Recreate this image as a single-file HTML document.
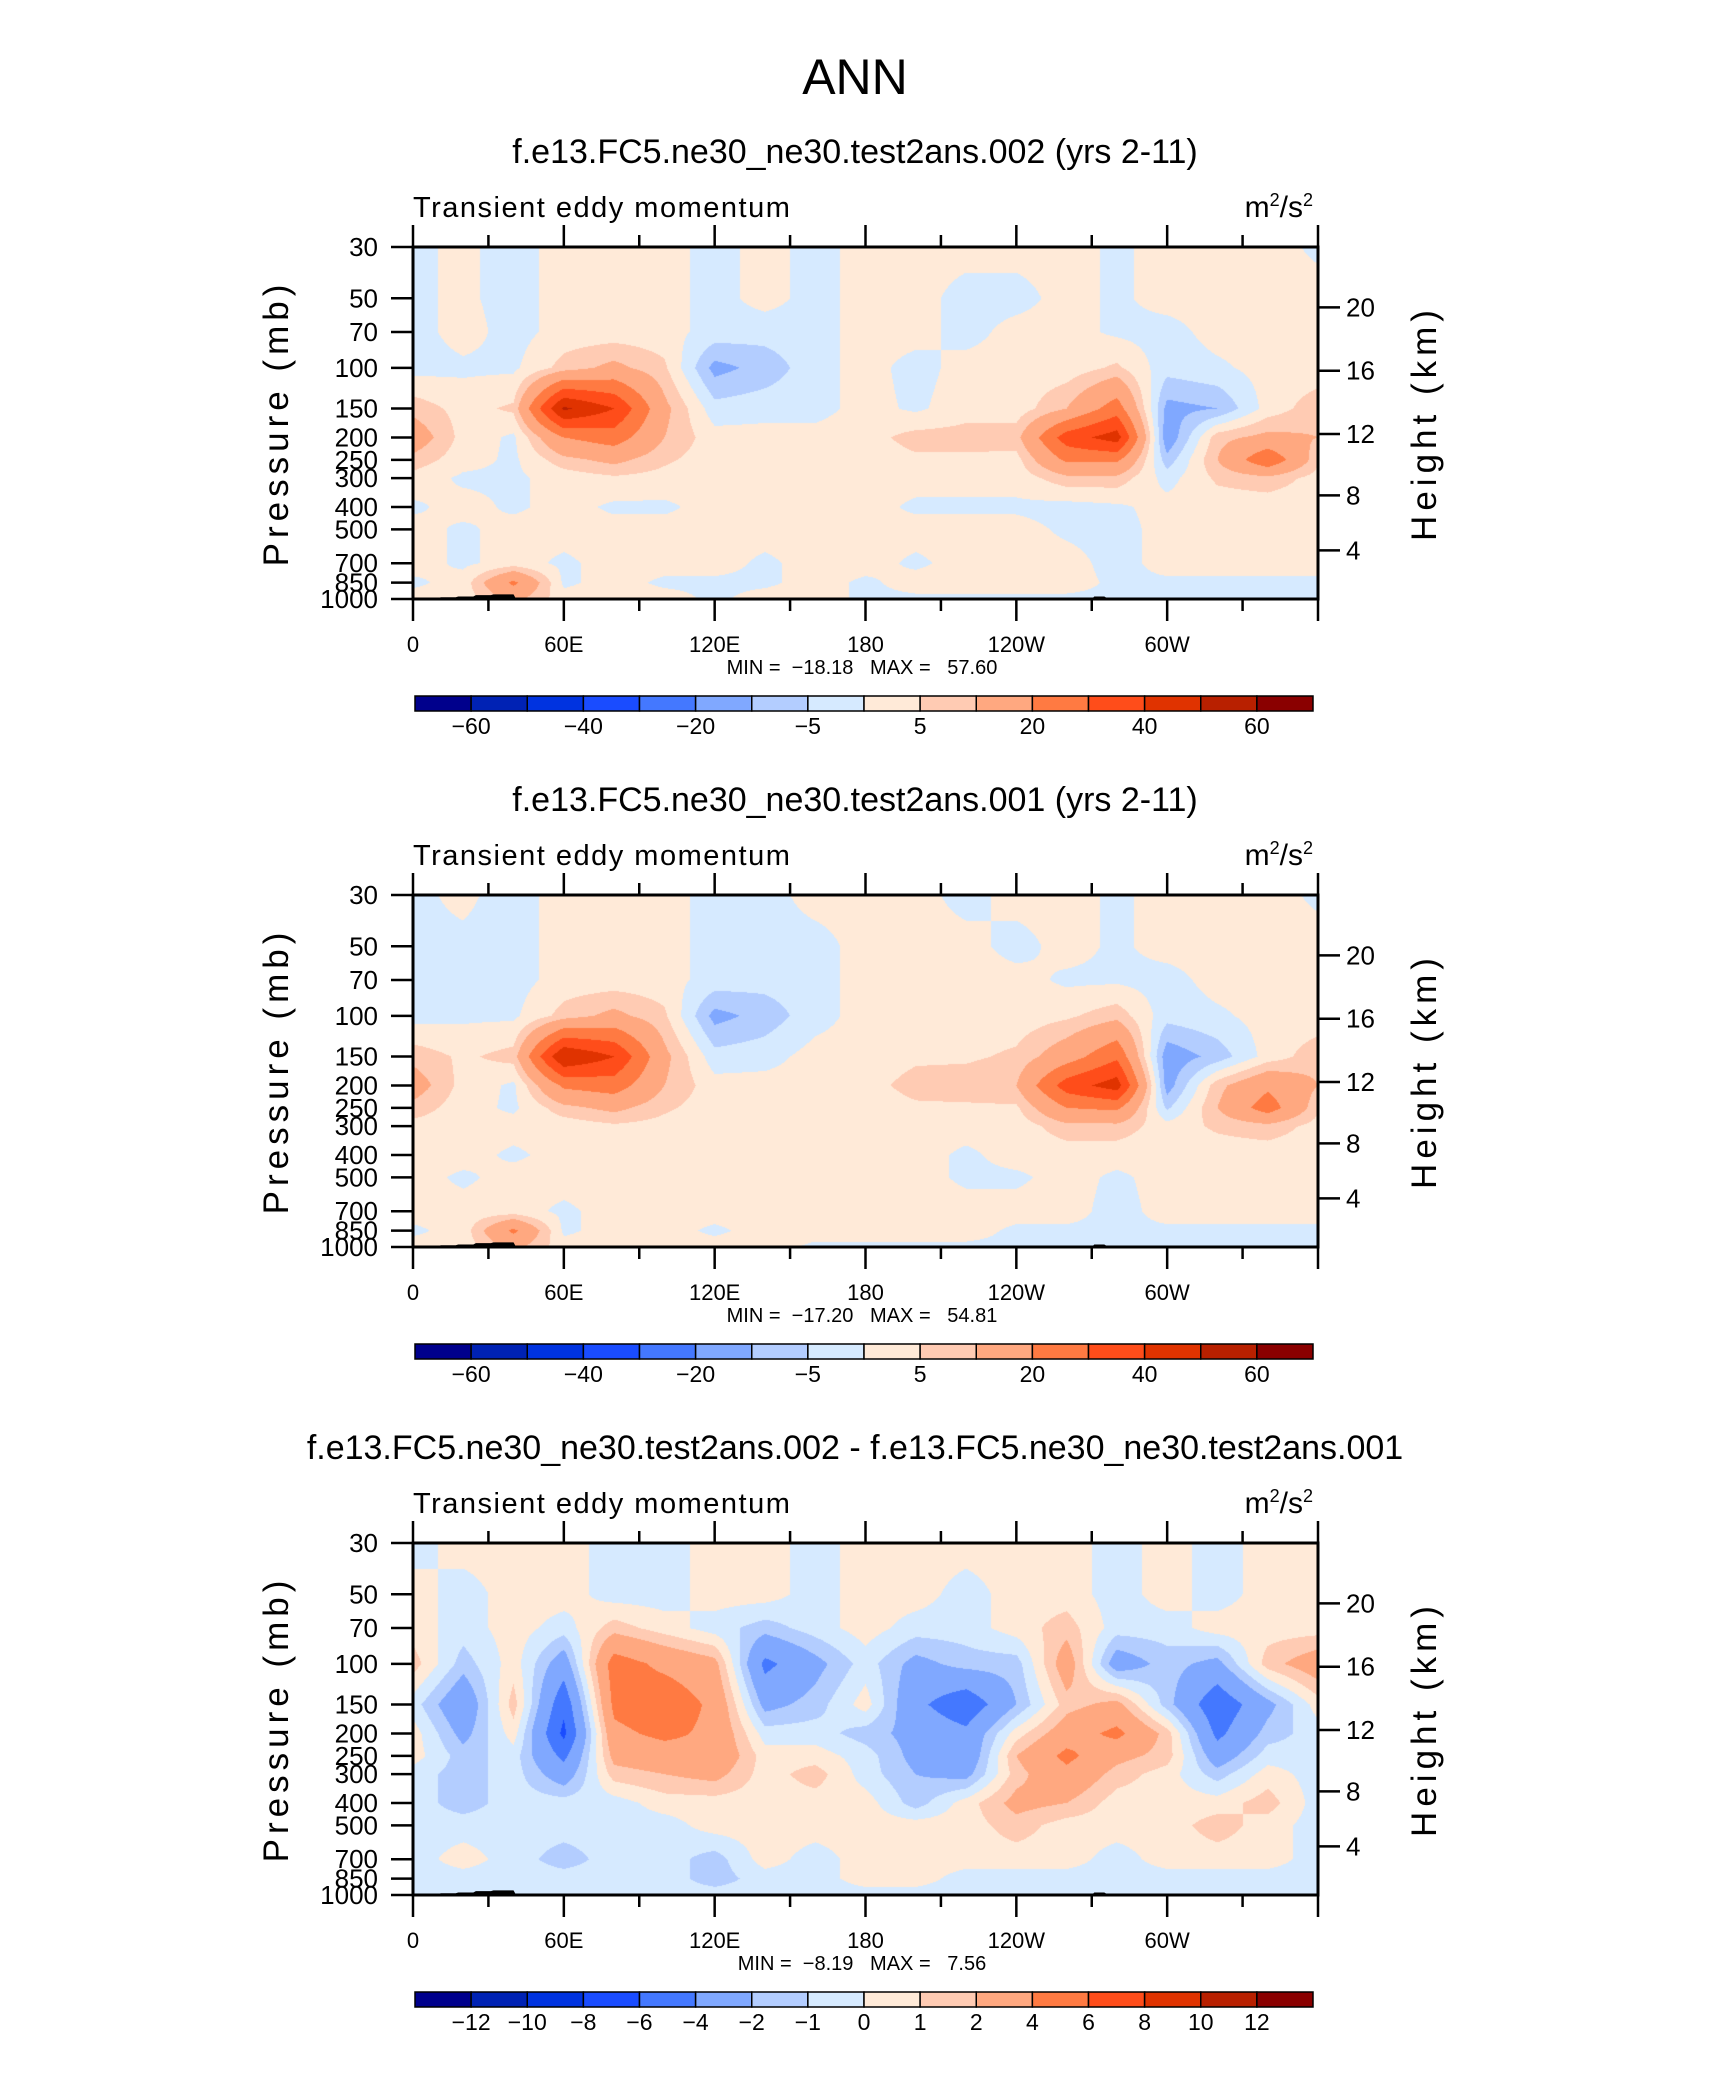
<!DOCTYPE html>
<html><head><meta charset="utf-8">
<style>
body{margin:0;background:#fff;}
#root{position:relative;width:1710px;height:2074px;overflow:hidden;background:#fff;font-family:"Liberation Sans",sans-serif;}
svg text{font-family:"Liberation Sans",sans-serif;}
canvas{position:absolute;}
</style></head>
<body>
<div id="root">
<svg id="svg" width="1710" height="2074" style="position:absolute;left:0;top:0"></svg>
</div>
<script>
const lons=[0,20,40,60,80,100,120,140,160,180,200,220,240,260,280,300,320,340,360];
const levels=[30,50,70,100,150,200,250,300,400,500,700,850,1000];
const xTickLabels=["0","60E","120E","180","120W","60W"];
const pTickLabels=[30,50,70,100,150,200,250,300,400,500,700,850,1000];
const hTickLabels=[20,16,12,8,4];
const cbLevelsA=[-60,-50,-40,-30,-20,-10,-5,0,5,10,20,30,40,50,60];
const cbLabelsA=["-60","","-40","","-20","","-5","","5","","20","","40","","60"];
const cbLevelsB=[-12,-10,-8,-6,-4,-2,-1,0,1,2,4,6,8,10,12];
const cbLabelsB=["-12","-10","-8","-6","-4","-2","-1","0","1","2","4","6","8","10","12"];
const colors=["#00008c","#0022b4","#0033e0","#1a4cff","#4478ff","#80a8ff","#b3cdff","#d6eaff","#ffead8","#ffcbb3","#ffa880","#ff7a42","#ff4d1a","#e03300","#b82000","#8a0000"];
const field1=[
[-1,1,-2,2,2,2,-2,2,-2,2,2,2,2,2,-1,2,2,2,-1],
[-1,1,-2,2,2,2,-2,2,-2,2,2,-2,-2,2,-1,2,2,2,2],
[-2,2,-2,2,2,2,-2,-3,-2,2,2,-2,2,2,-1,-2,2,2,2],
[-2,-1,-1,7,12,6,-12,-8,-2,2,-2,2,2,2,6,-3,-1,2,2],
[8,3,6,52,40,12,-3,-2,-2,2,-1,3,2,10,25,-12,-10,2,8],
[15,3,-1,20,25,10,2,2,2,3,7,7,8,35,45,-15,8,12,10],
[8,2,-1,8,12,6,2,2,2,2,4,4,3,22,22,-8,10,28,6],
[3,-1,-1,2,4,3,2,2,2,2,2,2,2,8,8,-2,6,8,3],
[-1,2,-1,2,-1,-1,2,2,2,2,-1,-1,-1,-2,-1,2,2,2,2],
[2,-1,2,2,2,2,2,2,2,2,2,2,2,-1,-2,2,2,2,2],
[2,-1,2,-1,2,2,2,-1,2,2,-1,2,2,2,-2,2,2,2,2],
[-1,2,22,-1,2,-1,-1,-1,2,-1,2,2,2,2,-1,-1,-1,-1,-1],
[2,2,12,2,2,2,-1,2,2,-1,-1,-1,-1,-1,-1,-1,-1,-1,-1]];
const field2=[
[-1,1,-2,2,2,2,-2,-2,2,2,2,-2,2,2,-1,2,2,2,-1],
[-1,-1,-2,2,2,2,-2,-2,-2,2,2,2,-2,2,-1,2,2,2,2],
[-2,-1,-2,2,2,2,-2,-3,-2,2,2,2,2,-1,-1,-2,2,2,2],
[-2,-1,-1,7,12,6,-12,-8,-2,2,2,2,2,4,8,-3,-1,2,2],
[8,4,7,50,40,12,-3,-2,2,2,4,4,6,15,28,-14,-8,2,8],
[14,3,-1,22,25,10,2,2,2,3,7,8,10,35,45,-13,8,18,10],
[8,2,-1,8,12,6,2,2,2,2,4,4,4,20,22,-6,10,25,6],
[3,2,2,2,4,3,2,2,2,2,2,2,2,8,8,2,6,8,3],
[2,2,-1,2,2,2,2,2,2,2,2,-1,2,2,2,2,2,2,2],
[2,-1,2,2,2,2,2,2,2,2,2,-1,-1,2,-1,2,2,2,2],
[2,2,2,-1,2,2,2,2,2,2,2,2,2,2,-2,2,2,2,2],
[-1,2,22,-1,2,2,-1,2,2,2,2,2,-1,-1,-1,-1,-1,-1,-1],
[2,2,12,2,2,2,2,2,-1,-1,-1,-1,-1,-1,-1,-1,-1,-1,-1]];
const field3=[
[-0.5,0.5,0.5,0.5,-0.5,-0.5,0.5,0.5,-0.5,0.5,0.5,0.5,0.5,0.5,-0.5,0.5,-0.5,0.5,0.5],
[0.5,-0.5,0.5,0.5,-0.5,-0.5,0.5,0.5,-0.5,0.5,0.5,-0.5,0.5,0.5,-0.5,0.5,-0.5,0.5,0.5],
[0.5,-0.5,0.5,-0.5,1.5,0.5,-0.5,-1.5,-0.5,0.5,-0.5,-0.5,0.5,1.5,-0.5,-0.5,0.5,0.5,0.5],
[1.5,-1.5,0.5,-3,5,3.5,2.5,-4.5,-2.5,-0.5,-2.5,-1.5,-1.5,3,-3,-1.5,-2.5,1.5,3],
[-0.5,-3.5,1.5,-5.5,4.5,5.5,3.5,-2.5,-1.5,0.5,-3.5,-5.5,-2,1.5,2.5,-1.5,-5.5,-2.5,0.5],
[0.5,-2.5,0.5,-6.5,3.5,4.5,3.5,-0.5,-0.5,-1.5,-2.5,-3.5,0.5,3,4.5,1.5,-4.5,-1.5,-0.5],
[0.5,-1.5,-0.5,-4.5,2.5,3,3.5,0.5,0.5,-0.5,-2.5,-3.5,2,4.5,2.5,1.5,-3,-0.5,-0.5],
[-0.5,-1.5,-0.5,-3,1.5,2,2.5,0.5,1.5,-0.5,-2,-2.5,1.5,3.5,1.5,0.5,-1.5,0.5,-0.5],
[-0.5,-1.5,-0.5,-0.5,-0.5,0.5,0.5,0.5,0.5,0.5,-1.5,0.5,2.5,2,0.5,0.5,0.5,1.5,-0.5],
[-0.5,-0.5,-0.5,-0.5,-0.5,-0.5,0.5,0.5,0.5,0.5,0.5,0.5,1.5,0.5,0.5,0.5,1.5,0.5,-0.5],
[-0.5,0.5,-0.5,-1.5,-0.5,-0.5,-1.5,0.5,-0.5,0.5,0.5,0.5,0.5,0.5,-0.5,0.5,0.5,0.5,-0.5],
[-0.5,-0.5,-0.5,-0.5,-0.5,-0.5,-1.5,-0.5,-0.5,0.5,0.5,-0.5,-0.5,-0.5,-0.5,-0.5,-0.5,-0.5,-0.5],
[-0.5,-0.5,-0.5,-0.5,-0.5,-0.5,-0.5,-0.5,-0.5,-0.5,-0.5,-0.5,-0.5,-0.5,-0.5,-0.5,-0.5,-0.5,-0.5]];
const topoLon=[10,11,17,18,24,25,31,32,40,41,95,100,112,118,270,271,275,276,290,300];
const topoP=[1000,983,983,975,975,962,962,955,955,1000,990,1000,990,1000,1000,975,975,990,990,1000];
const panels=[
 {title:"f.e13.FC5.ne30_ne30.test2ans.002 (yrs 2-11)",field:field1,min:"-18.18",max:"57.60",lv:cbLevelsA,lb:cbLabelsA},
 {title:"f.e13.FC5.ne30_ne30.test2ans.001 (yrs 2-11)",field:field2,min:"-17.20",max:"54.81",lv:cbLevelsA,lb:cbLabelsA},
 {title:"f.e13.FC5.ne30_ne30.test2ans.002 - f.e13.FC5.ne30_ne30.test2ans.001",field:field3,min:"-8.19",max:"7.56",lv:cbLevelsB,lb:cbLabelsB}];

const PX=413,PW=905,PH=352,PT=247,STEP=648;
const svg=document.getElementById('svg');
const NS="http://www.w3.org/2000/svg";
function mk(tag,attrs,parent){const e=document.createElementNS(NS,tag);for(const k in attrs)e.setAttribute(k,attrs[k]);(parent||svg).appendChild(e);return e;}
function xs(lon){return PX+lon/360*PW;}
function ys(p,top){return top+PH*Math.log(p/30)/Math.log(1000/30);}
function pOfZ(km){const z=km*1000;if(z<=11000)return 1013.25*Math.pow(1-2.25577e-5*z,5.25588);return 226.32*Math.exp(-(z-11000)/6341.6);}
function sample(f,lon,p){
 let i=Math.min(lons.length-2,Math.floor(lon/20));let tx=(lon-lons[i])/(lons[i+1]-lons[i]);
 let lp=Math.log(p);let j=0;while(j<levels.length-2&&Math.log(levels[j+1])<lp)j++;
 let ty=(lp-Math.log(levels[j]))/(Math.log(levels[j+1])-Math.log(levels[j]));
 ty=Math.max(0,Math.min(1,ty));
 return (f[j][i]*(1-tx)+f[j][i+1]*tx)*(1-ty)+(f[j+1][i]*(1-tx)+f[j+1][i+1]*tx)*ty;}
function colorIdx(v,lv){let k=0;while(k<lv.length&&v>=lv[k])k++;return k;}
function hex(c){return [parseInt(c.slice(1,3),16),parseInt(c.slice(3,5),16),parseInt(c.slice(5,7),16)];}
const rgb=colors.map(hex);

panels.forEach((pn,n)=>{
 const off=n*STEP, top=PT+off;
 const g=mk('g',{});
 
 
 const t=mk('text',{x:855,y:163+off,'text-anchor':'middle','font-size':34},g);t.textContent=pn.title;
 
 const lt=mk('text',{x:413,y:217+off,'font-size':29,'letter-spacing':'1.5'},g);lt.textContent="Transient eddy momentum";
 
 const ut=mk('text',{x:1313,y:217+off,'text-anchor':'end','font-size':30},g);
 ut.innerHTML='m<tspan dy="-11" font-size="18">2</tspan><tspan dy="11">/s</tspan><tspan dy="-11" font-size="18">2</tspan>';
 
 const cv=document.createElement('canvas');cv.width=PW;cv.height=PH;cv.style.left=PX+'px';cv.style.top=top+'px';
 
 
 document.getElementById('root').insertBefore(cv,svg);
 const ctx=cv.getContext('2d');const img=ctx.createImageData(PW,PH);
 for(let y=0;y<PH;y++){const p=30*Math.exp((y+0.5)/PH*Math.log(1000/30));
  for(let x=0;x<PW;x++){const v=sample(pn.field,(x+0.5)/PW*360,p);const c=rgb[colorIdx(v,pn.lv)];const o=(y*PW+x)*4;img.data[o]=c[0];img.data[o+1]=c[1];img.data[o+2]=c[2];img.data[o+3]=255;}}
 ctx.putImageData(img,0,0);
 let d='M'+xs(topoLon[0])+','+ys(1000,top);
 topoLon.forEach((l,k)=>{d+=' L'+xs(l)+','+ys(topoP[k],top);});
 d+=' L'+xs(topoLon[topoLon.length-1])+','+ys(1000,top)+' Z';
 const tp=mk('path',{d:d,fill:'#000'},g);
 const fr=mk('rect',{x:PX,y:top,width:PW,height:PH,fill:'none',stroke:'#000','stroke-width':3},g);
 
 for(let l=0;l<=360;l+=30){const major=l%60===0;const x=xs(l);
  mk('line',{x1:x,y1:top,x2:x,y2:top-(major?22:12),stroke:'#000','stroke-width':2.5},g);
  mk('line',{x1:x,y1:top+PH,x2:x,y2:top+PH+(major?22:12),stroke:'#000','stroke-width':2.5},g);}
 xTickLabels.forEach((s,k)=>{const e=mk('text',{x:xs(k*60),y:top+405,'text-anchor':'middle','font-size':22},g);e.textContent=s;
  });
 pTickLabels.forEach(p=>{const y=ys(p,top);mk('line',{x1:PX-22,y1:y,x2:PX,y2:y,stroke:'#000','stroke-width':2.5},g);
  const e=mk('text',{x:378,y:y+9,'text-anchor':'end','font-size':26},g);e.textContent=p;
  });
 hTickLabels.forEach(h=>{const y=ys(pOfZ(h),top);mk('line',{x1:PX+PW,y1:y,x2:PX+PW+22,y2:y,stroke:'#000','stroke-width':2.5},g);
  const e=mk('text',{x:1346,y:y+9,'font-size':26},g);e.textContent=h;
  });
 const ya=mk('text',{x:0,y:0,'text-anchor':'middle','font-size':35,'letter-spacing':'5',transform:`translate(288,${top+176}) rotate(-90)`},g);ya.textContent="Pressure (mb)";
 
 const ya2=mk('text',{x:0,y:0,'text-anchor':'middle','font-size':35,'letter-spacing':'5',transform:`translate(1436,${top+176}) rotate(-90)`},g);ya2.textContent="Height (km)";
 
 const mm=mk('text',{x:862,y:top+427,'text-anchor':'middle','font-size':20,style:'white-space:pre'},g);
 mm.textContent="MIN =  "+pn.min.replace('-','\u2212')+"   MAX =   "+pn.max;
 
 const cbx=415,cbw=898,cby=696+off,cbh=15,bw=cbw/16;
 colors.forEach((c,k)=>{const r=mk('rect',{x:cbx+k*bw,y:cby,width:bw,height:cbh,fill:c,stroke:'#000','stroke-width':1.5},g);
  });
 pn.lb.forEach((s,k)=>{if(!s)return;const e=mk('text',{x:cbx+(k+1)*bw,y:cby+38,'text-anchor':'middle','font-size':23},g);e.textContent=s.replace('-','\u2212');
  });
});
const ann=mk('text',{x:855,y:94,'text-anchor':'middle','font-size':50,'font-weight':'300'});ann.textContent="ANN";


</script>
</body></html>
